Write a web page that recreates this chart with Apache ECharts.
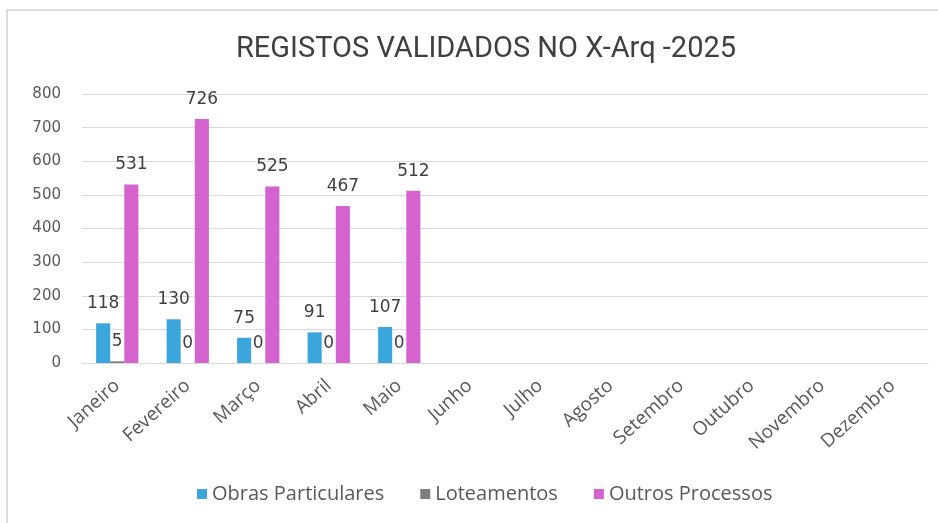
<!DOCTYPE html>
<html>
<head>
<meta charset="utf-8">
<script src="https://cdn.jsdelivr.net/npm/echarts@6/dist/echarts.min.js"></script>
<style>html,body{margin:0;padding:0;background:#fff;}#c{width:938px;height:523px;}</style>
</head>
<body>
<div id="c"></div>
<script>
const months = ['Janeiro','Fevereiro','Março','Abril','Maio','Junho','Julho','Agosto','Setembro','Outubro','Novembro','Dezembro'];
const obras = [118,130,75,91,107,null,null,null,null,null,null,null];
const loteamentos = [5,0,0,0,0,null,null,null,null,null,null,null];
const outros = [531,726,525,467,512,null,null,null,null,null,null,null];
const yTicks = [0,100,200,300,400,500,600,700,800];

const chart = echarts.init(document.getElementById('c'), null, {renderer:'canvas'});
const lbl = {show:true, position:'top', distance:11, color:'#404040', fontFamily:'DejaVu Sans', fontSize:17};
chart.setOption({
  animation:false,
  backgroundColor:'#fff',
  graphic:[{type:'rect', shape:{x:7,y:10,width:940,height:530}, style:{fill:'none', stroke:'#dcdcdc', lineWidth:2}}],
  title:{text:'REGISTOS VALIDADOS NO X-Arq -2025', left:481, top:30, textAlign:'center',
    textStyle:{fontFamily:'Roboto, sans-serif', fontWeight:'normal', fontSize:29, color:'#404040'}},
  legend:{bottom:14, left:192, itemWidth:10, itemHeight:10, itemGap:36, icon:'rect',
    textStyle:{fontFamily:'Open Sans, sans-serif', fontSize:20, color:'#595959'},
    data:['Obras Particulares','Loteamentos','Outros Processos']},
  grid:{left:82, right:10, top:94, bottom:160, containLabel:false},
  xAxis:{type:'category', data:months,
    axisLine:{lineStyle:{color:'#d9d9d9'}}, axisTick:{show:false},
    axisLabel:{rotate:42, color:'#595959', fontFamily:'Open Sans, sans-serif', fontSize:19, margin:20, interval:0}},
  yAxis:{type:'value', min:0, max:800, interval:100,
    axisLine:{show:false}, axisTick:{show:false},
    splitLine:{lineStyle:{color:'#d9d9d9'}},
    axisLabel:{color:'#595959', fontFamily:'DejaVu Sans', fontSize:15, margin:21,
      formatter:v=>yTicks.includes(v)?String(v):''}},
  series:[
    {name:'Obras Particulares', type:'bar', data:obras, barGap:'0%', barCategoryGap:'40%', itemStyle:{color:'#3BA6DC'}, label:lbl},
    {name:'Loteamentos', type:'bar', data:loteamentos, itemStyle:{color:'#7F7F7F'}, label:lbl},
    {name:'Outros Processos', type:'bar', data:outros, itemStyle:{color:'#D462CF'}, label:lbl}
  ]
});
</script>
</body>
</html>
